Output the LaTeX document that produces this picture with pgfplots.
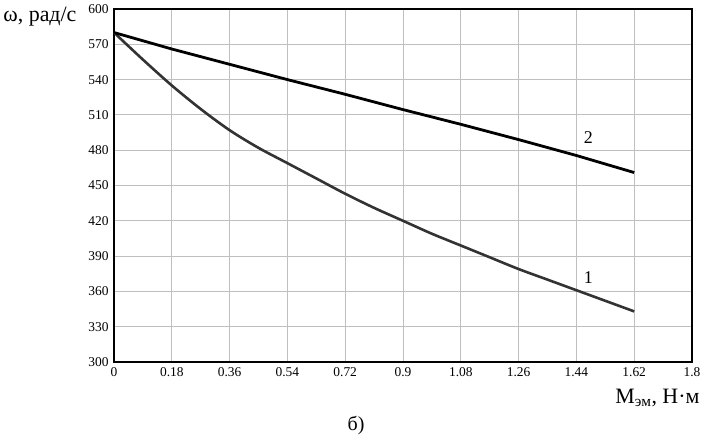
\documentclass[border=0pt]{standalone}
\usepackage{pgfplots}
\pgfplotsset{compat=1.18}
\usepackage{fontspec}
\setmainfont{Liberation Serif}
\begin{document}
\begin{tikzpicture}
\begin{axis}[
  scale only axis,
  width=578bp, height=353bp,
  xmin=0, xmax=1.8, ymin=300, ymax=600,
  xtick={0,0.18,...,1.81},
  xticklabels={0,0.18,0.36,0.54,0.72,0.9,1.08,1.26,1.44,1.62,1.8},
  ytick={300,330,...,600},
  grid=major,
  major grid style={draw=black!25, line width=0.8bp},
  axis line style={line width=1.3bp},
  tick style={draw=none},
  ticklabel style={font=\fontsize{13.5}{13.5}\selectfont},
  /pgf/number format/assume math mode=true,
  yticklabel style={xshift=-2bp},
  xticklabel style={yshift=-2bp},
  clip=false,
]
\addplot[black!80, line width=2.6bp, smooth] coordinates {
(0,580) (0.09,557) (0.18,535) (0.27,515) (0.36,497) (0.45,482) (0.54,469)
(0.63,456) (0.72,443) (0.81,431) (0.9,420) (0.99,409) (1.08,399) (1.17,389)
(1.26,379) (1.35,370) (1.44,361) (1.53,352) (1.62,343)
};
\addplot[black, line width=2.8bp] coordinates {
(0,580) (0.18,566) (0.36,553) (0.54,540) (0.72,527.5) (0.9,514.5)
(1.08,502) (1.26,489) (1.44,475.5) (1.62,461)
};
\node[font=\fontsize{18}{18}\selectfont] at (axis cs:1.477,491) {2};
\node[font=\fontsize{18}{18}\selectfont] at (axis cs:1.477,372) {1};
\node[anchor=east, font=\fontsize{22}{22}\selectfont] at ([xshift=-34bp,yshift=-8bp]rel axis cs:0,1) {ω, рад/с};
\node[anchor=east, font=\fontsize{22}{22}\selectfont] at ([xshift=11bp,yshift=-36bp]rel axis cs:1,0) {M\textsubscript{эм}, Н·м};
\node[font=\fontsize{20}{20}\selectfont] at ([yshift=-63bp]axis cs:0.754,300) {б)};
\end{axis}
\pgfresetboundingbox
\path ([xshift=-114bp,yshift=-76bp]current axis.south west) rectangle ++(708bp,438bp);
\end{tikzpicture}
\end{document}
